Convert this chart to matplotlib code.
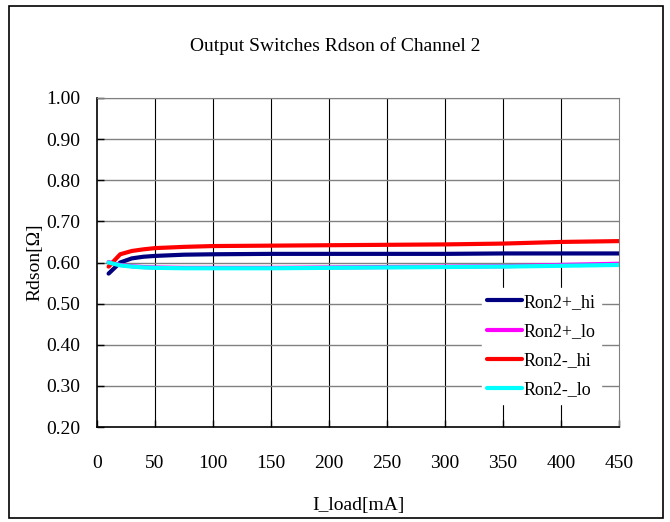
import matplotlib.pyplot as plt
from matplotlib.patches import Rectangle

# load current [mA]
i_load = [10, 20, 30, 40, 50, 75, 100, 150, 200, 250, 300, 350, 400, 450]

# Rdson [ohm]
ron_p_hi = [0.573, 0.600, 0.610, 0.614, 0.616, 0.619, 0.620, 0.621, 0.621, 0.621, 0.621, 0.622, 0.622, 0.622]
ron_p_lo = [0.601, 0.594, 0.591, 0.589, 0.588, 0.587, 0.587, 0.587, 0.588, 0.589, 0.590, 0.591, 0.594, 0.597]
ron_m_hi = [0.590, 0.620, 0.628, 0.632, 0.635, 0.638, 0.640, 0.641, 0.642, 0.643, 0.644, 0.646, 0.650, 0.652]
ron_m_lo = [0.600, 0.593, 0.590, 0.588, 0.587, 0.586, 0.586, 0.586, 0.587, 0.588, 0.589, 0.590, 0.592, 0.594]

labels = ["Ron2+_hi", "Ron2+_lo", "Ron2-_hi", "Ron2-_lo"]
colors = ["#000080", "#ff00ff", "#ff0000", "#00ffff"]

x_ticks = list(range(0, 451, 50))
y_ticks = [0.20, 0.30, 0.40, 0.50, 0.60, 0.70, 0.80, 0.90, 1.00]

plt.rcParams['font.family'] = ['Liberation Serif', 'DejaVu Serif']

fig = plt.figure(figsize=(6.7, 5.22), dpi=100)
ax = fig.add_axes([97 / 670, 95 / 522, 522 / 670, 329 / 522])

# outer chart border
fig.patches.append(Rectangle((9 / 670, 4 / 522), 654 / 670, 512 / 522,
                             transform=fig.transFigure, fill=False,
                             edgecolor='black', linewidth=1.2))

for ys, lab, col in zip([ron_p_hi, ron_p_lo, ron_m_hi, ron_m_lo], labels, colors):
    ax.plot(i_load, ys, color=col, linewidth=3, label=lab, solid_capstyle='round')

ax.set_xlim(0, 450)
ax.set_ylim(0.2, 1.0)
ax.set_xticks(x_ticks)
ax.set_yticks(y_ticks)
ax.set_yticklabels([f"{v:.2f}" for v in y_ticks])

for x in x_ticks[1:-1]:
    ax.axvline(x, color='black', linewidth=0.8, zorder=0.5)
for y in y_ticks[1:]:
    ax.axhline(y, color='#808080', linewidth=1.0, zorder=0.5)

for side in ['top', 'right']:
    ax.spines[side].set_color('#808080')
for side in ['left', 'bottom']:
    ax.spines[side].set_color('black')
    ax.spines[side].set_linewidth(1.2)

ax.tick_params(direction='in', length=5, width=1, labelsize=14, pad=12)
ax.tick_params(axis='x', pad=20)

ax.set_xlabel("I_load[mA]", fontsize=14, labelpad=18)
ax.set_ylabel("Rdson[Ω]", fontsize=14, labelpad=2)
fig.text(0.5, 1 - 46 / 522, "Output Switches Rdson of Channel 2",
         ha='center', va='center', fontsize=14)

leg = ax.legend(loc='lower right', bbox_to_anchor=(0.965, 0.07), fontsize=13,
                frameon=True, fancybox=False, edgecolor='white', facecolor='white',
                framealpha=1, handlelength=1.9, handletextpad=0.1,
                labelspacing=0.68, borderpad=0.3, borderaxespad=0)

fig.savefig("out.png", dpi=100)
